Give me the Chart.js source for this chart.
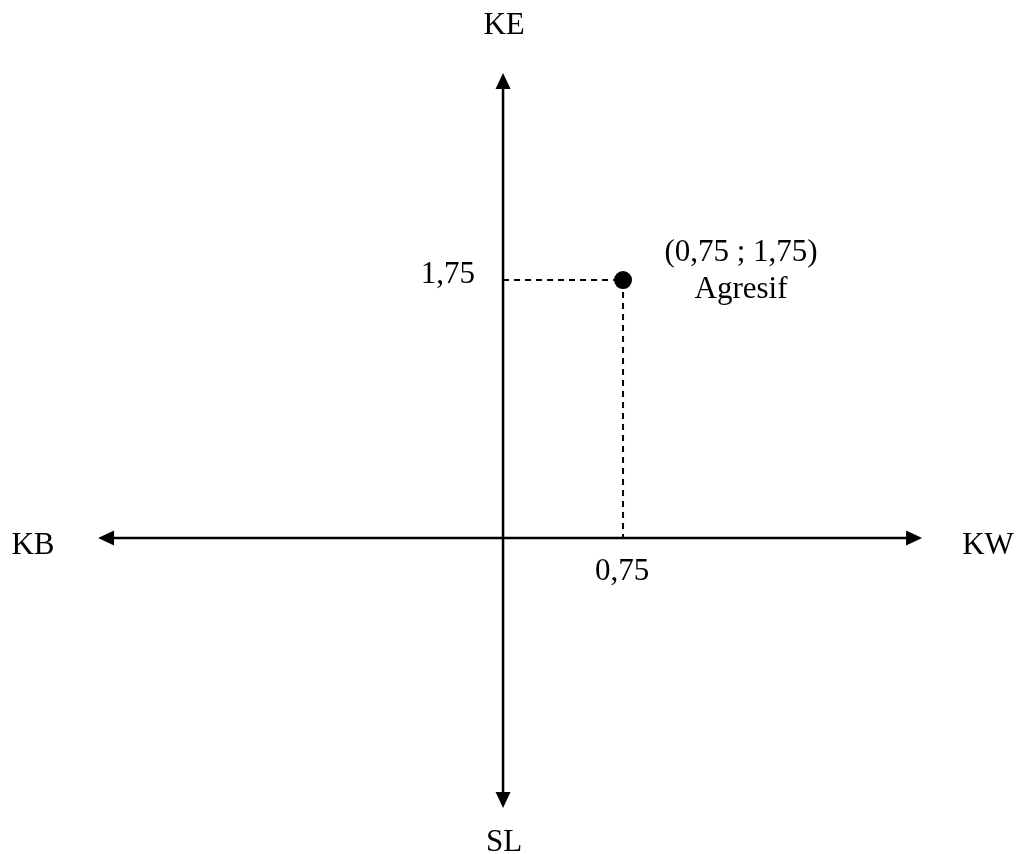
<!DOCTYPE html>
<html>
<head>
<meta charset="utf-8">
<script src="https://cdn.jsdelivr.net/npm/chart.js@4.4.0/dist/chart.umd.min.js"></script>
<style>
  html, body { margin: 0; padding: 0; background: #fff; }
  #wrap { width: 1016px; height: 854px; }
</style>
</head>
<body>
<div id="wrap"><canvas id="chart"></canvas></div>
<script>
// Position point on the quadrant
const pointX = [0.75];
const pointY = [1.75];
const pointLabels = ['(0,75 ; 1,75)', 'Agresif'];
const tickLabelsX = ['0,75'];
const tickLabelsY = ['1,75'];
// axis ends: left, right / bottom, top (in data units)
const axisX = [-2.531, 2.619];
const axisY = [-1.832, 3.155];
const axisNames = ['KE', 'SL', 'KB', 'KW'];

const FONT = '31px "Liberation Serif", "Times New Roman", serif';

function arrowHead(ctx, x, y, dir) {
    const len = 16, half = 7.5;
    ctx.beginPath();
    if (dir === 'left') {
        ctx.moveTo(x, y); ctx.lineTo(x + len, y - half); ctx.lineTo(x + len, y + half);
    } else if (dir === 'right') {
        ctx.moveTo(x, y); ctx.lineTo(x - len, y - half); ctx.lineTo(x - len, y + half);
    } else if (dir === 'up') {
        ctx.moveTo(x, y); ctx.lineTo(x - half, y + len); ctx.lineTo(x + half, y + len);
    } else {
        ctx.moveTo(x, y); ctx.lineTo(x - half, y - len); ctx.lineTo(x + half, y - len);
    }
    ctx.closePath();
    ctx.fill();
}

const quadrantPlugin = {
    id: 'quadrant',
    afterDatasetsDraw(chart) {
        const ctx = chart.ctx;
        const xs = chart.scales.x, ys = chart.scales.y;
        const x0 = xs.getPixelForValue(0), y0 = ys.getPixelForValue(0);
        const xl = xs.getPixelForValue(axisX[0]), xr = xs.getPixelForValue(axisX[1]);
        const yb = ys.getPixelForValue(axisY[0]), yt = ys.getPixelForValue(axisY[1]);
        const px = xs.getPixelForValue(pointX[0]), py = ys.getPixelForValue(pointY[0]);

        ctx.save();
        ctx.fillStyle = '#000';
        arrowHead(ctx, xl, y0, 'left');
        arrowHead(ctx, xr, y0, 'right');
        arrowHead(ctx, x0, yt, 'up');
        arrowHead(ctx, x0, yb, 'down');

        ctx.font = FONT;
        ctx.textBaseline = 'alphabetic';
        ctx.textAlign = 'center';
        ctx.fillText(axisNames[0], x0 + 1, yt - 39);
        ctx.fillText(axisNames[1], x0 + 1, yb + 43);
        ctx.fillText(axisNames[2], 33, y0 + 16);
        ctx.fillText(axisNames[3], 988, y0 + 16);

        ctx.fillText(tickLabelsX[0], px - 1, y0 + 42);
        ctx.textAlign = 'right';
        ctx.fillText(tickLabelsY[0], x0 - 28, py + 3);

        ctx.textAlign = 'center';
        ctx.fillText(pointLabels[0], px + 118, py - 19);
        ctx.fillText(pointLabels[1], px + 118, py + 18);
        ctx.restore();
    }
};

new Chart(document.getElementById('chart'), {
    type: 'scatter',
    data: {
        datasets: [
            // horizontal axis
            {
                type: 'line',
                data: [{ x: axisX[0] + 0.05, y: 0 }, { x: axisX[1] - 0.05, y: 0 }],
                borderColor: '#000', borderWidth: 2.5, pointRadius: 0
            },
            // vertical axis
            {
                type: 'line',
                data: [{ x: 0, y: axisY[0] + 0.05 }, { x: 0, y: axisY[1] - 0.05 }],
                borderColor: '#000', borderWidth: 2.5, pointRadius: 0
            },
            // dashed guides
            {
                type: 'line',
                data: [{ x: 0, y: pointY[0] }, { x: pointX[0], y: pointY[0] }, { x: pointX[0], y: 0 }],
                borderColor: '#000', borderWidth: 2, borderDash: [6, 5], pointRadius: 0
            },
            // the point
            {
                data: pointX.map((x, i) => ({ x: x, y: pointY[i] })),
                backgroundColor: '#000', borderColor: '#000', pointRadius: 9, borderWidth: 0
            }
        ]
    },
    options: {
        responsive: true,
        maintainAspectRatio: false,
        animation: false,
        layout: { padding: 0, autoPadding: false },
        plugins: { legend: { display: false }, tooltip: { enabled: false } },
        scales: {
            x: { type: 'linear', display: false, min: -3.144, max: 3.206 },
            y: { type: 'linear', display: false, min: -2.144, max: 3.65 }
        }
    },
    plugins: [quadrantPlugin]
});
</script>
</body>
</html>
